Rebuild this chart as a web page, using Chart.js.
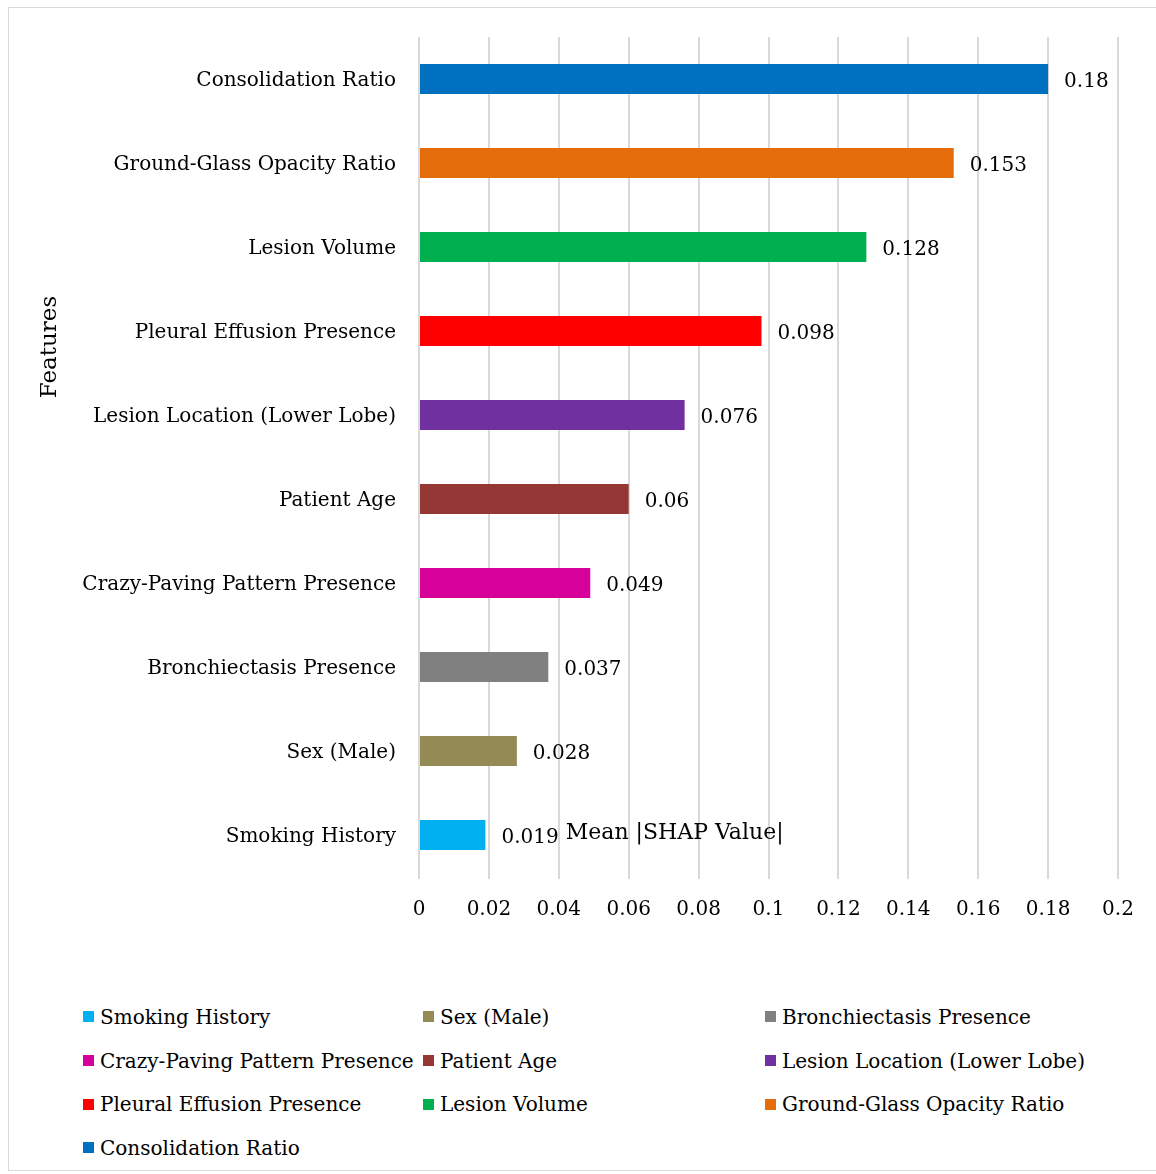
<!DOCTYPE html>
<html>
<head>
<meta charset="utf-8">
<script src="https://cdn.jsdelivr.net/npm/chart.js@4.4.1/dist/chart.umd.min.js"></script>
<style>
  html, body { margin: 0; padding: 0; background: #ffffff; }
  #wrap { position: relative; width: 1156px; height: 1174px; overflow: hidden; }
  #frame { position: absolute; left: 8px; top: 7px; width: 1160px; height: 1164px; border: 1px solid #d9d9d9; box-sizing: border-box; }
  #chart { position: absolute; left: 0; top: 0; }
  #legend { position: absolute; left: 83px; top: 995px; display: grid;
            grid-template-columns: 340px 342px 340px; row-gap: 0; }
  .item { display: flex; align-items: center; height: 43.7px; white-space: nowrap;
          font-family: "DejaVu Serif", serif; font-size: 20px; color: #000; }
  .sw { width: 11px; height: 11px; margin-right: 6px; flex: none; }
</style>
</head>
<body>
<div id="wrap">
  <div id="frame"></div>
  <canvas id="chart" width="1156" height="960"></canvas>
  <div id="legend"></div>
</div>
<script>
// Features, top to bottom
const features = [
  'Consolidation Ratio',
  'Ground-Glass Opacity Ratio',
  'Lesion Volume',
  'Pleural Effusion Presence',
  'Lesion Location (Lower Lobe)',
  'Patient Age',
  'Crazy-Paving Pattern Presence',
  'Bronchiectasis Presence',
  'Sex (Male)',
  'Smoking History'
];
const meanShap = [0.18, 0.153, 0.128, 0.098, 0.076, 0.06, 0.049, 0.037, 0.028, 0.019];
const barColors = [
  '#0070C0', '#E46C0A', '#00B050', '#FF0000', '#7030A0',
  '#953735', '#D6009A', '#808080', '#948A54', '#00B0F0'
];
const xTickLabels = ['0', '0.02', '0.04', '0.06', '0.08', '0.1', '0.12', '0.14', '0.16', '0.18', '0.2'];

const FONT = '"DejaVu Serif", serif';
const FS = 20;

// Value labels at the end of each bar, plus the two axis captions
const annotate = {
  id: 'annotate',
  afterDatasetsDraw(chart) {
    const ctx = chart.ctx;
    const meta = chart.getDatasetMeta(0);
    ctx.save();
    ctx.font = FS + 'px ' + FONT;
    ctx.fillStyle = '#000';
    ctx.textBaseline = 'middle';
    ctx.textAlign = 'left';
    meta.data.forEach((bar, i) => {
      ctx.fillText(String(meanShap[i]), bar.x + 16, bar.y + 3);
    });
    // x axis caption sits inside the plot, beside the last bar
    const xs = chart.scales.x;
    ctx.font = '22px ' + FONT;
    ctx.fillText('Mean |SHAP Value|', xs.getPixelForValue(0.042), chart.chartArea.bottom - 44);
    // y axis caption
    ctx.font = '23px ' + FONT;
    ctx.translate(50, 347);
    ctx.rotate(-Math.PI / 2);
    ctx.textAlign = 'center';
    ctx.fillText('Features', 0, 0);
    ctx.restore();
  }
};

new Chart(document.getElementById('chart'), {
  type: 'bar',
  data: {
    labels: features,
    datasets: [{
      data: meanShap,
      backgroundColor: barColors,
      borderWidth: 0,
      barPercentage: 0.357,
      categoryPercentage: 1.0
    }]
  },
  options: {
    indexAxis: 'y',
    responsive: false,
    animation: false,
    layout: { padding: { top: 37, right: 38, left: 0, bottom: 0 } },
    plugins: { legend: { display: false }, tooltip: { enabled: false } },
    scales: {
      x: {
        min: 0, max: 0.2,
        ticks: {
          stepSize: 0.02,
          color: '#000',
          font: { family: FONT, size: FS },
          padding: 19,
          maxRotation: 0,
          callback: (v, i) => xTickLabels[i]
        },
        grid: { color: '#d9d9d9', lineWidth: 2, drawTicks: true, tickLength: 2 },
        border: { display: false },
        afterFit(s) { s.height = 83; }
      },
      y: {
        ticks: {
          color: '#000',
          font: { family: FONT, size: FS },
          padding: 15,
          labelOffset: 2
        },
        grid: { display: false },
        border: { display: false },
        afterFit(s) { s.width = 419; }
      }
    }
  },
  plugins: [annotate]
});

// Legend, bottom feature first
const legend = document.getElementById('legend');
features.slice().reverse().forEach((name, k) => {
  const idx = features.length - 1 - k;
  const item = document.createElement('div');
  item.className = 'item';
  const sw = document.createElement('span');
  sw.className = 'sw';
  sw.style.background = barColors[idx];
  item.appendChild(sw);
  item.appendChild(document.createTextNode(name));
  legend.appendChild(item);
});
</script>
</body>
</html>
